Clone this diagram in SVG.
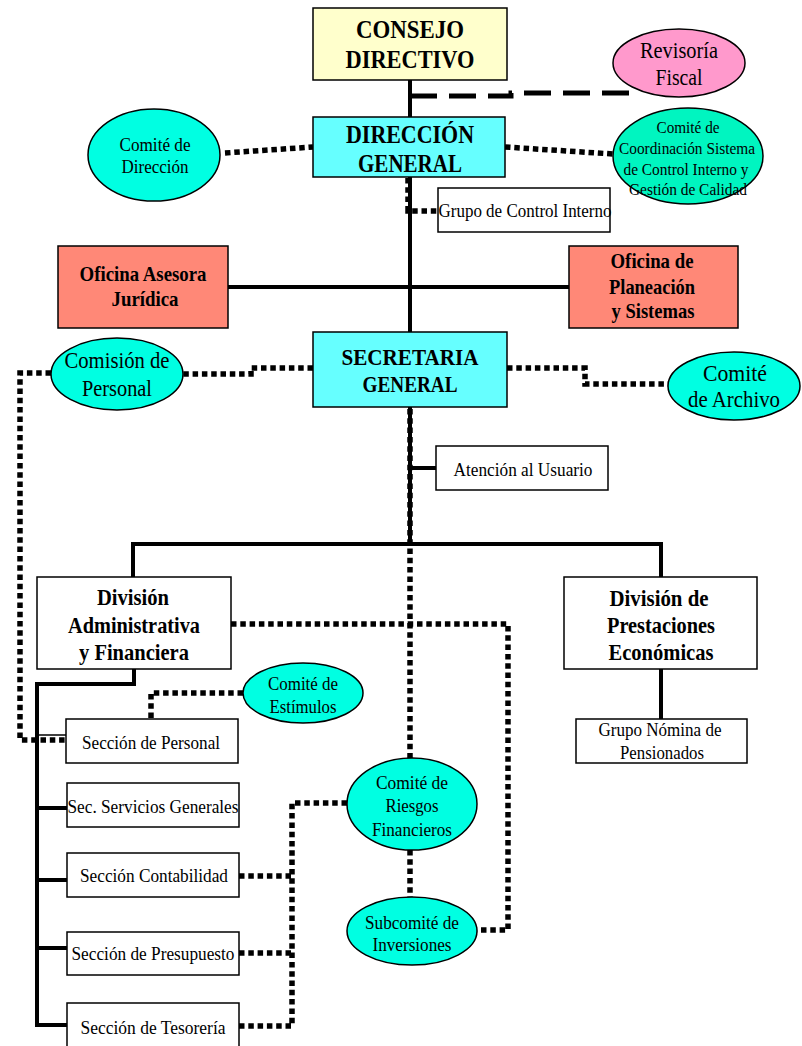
<svg xmlns="http://www.w3.org/2000/svg" width="802" height="1046" viewBox="0 0 802 1046">
<style>
text{font-family:"Liberation Serif","Times New Roman",serif;fill:#000;text-anchor:middle}
.h{font-weight:bold;font-size:25px}
.b{font-weight:bold}
.box{stroke:#000;stroke-width:1.5}
.solid{fill:none;stroke:#000;stroke-width:4}
.thin{fill:none;stroke:#000;stroke-width:1.5}
.dot{fill:none;stroke:#000;stroke-width:5.5;stroke-dasharray:5.5 3.8}
.dash{fill:none;stroke:#000;stroke-width:5;stroke-dasharray:27 12}
.cy{fill:#00FFE2}
.w{fill:#fff}
</style>
<rect width="802" height="1046" fill="#fff"/>
<g id="connectors">
<path class="solid" d="M410,80 V332"/>
<path class="solid" d="M228,287 H569"/>
<path class="dash" d="M410,96 H511 V93 H633 V86"/>
<path class="dot" d="M225,153 L313,147"/>
<path class="dot" d="M505,147 L613,154"/>
<path class="dot" d="M408,178 V211 H438"/>
<path class="dot" d="M313,368 H251 V374 H182"/>
<path class="dot" d="M51,373 H20 V740 H66"/>
<path class="dot" d="M507,368 H585 V384 H669"/>
<path class="solid" d="M410,407 V544"/>
<path class="dot" d="M410,409 V758"/>
<path class="solid" d="M410,468 H436"/>
<path class="solid" d="M133,577 V544 H661 V577"/>
<path class="solid" d="M661,669 V719"/>
<path class="dot" d="M231,624 H508 V930 H477"/>
<path class="solid" d="M134,669 V684 H37 V1025 H67"/>
<path class="solid" d="M37,808 H67 M37,880 H67 M37,948 H67"/>
<path class="thin" d="M37,735 H68"/>
<path class="dot" d="M243,693 H151 V719"/>
<path class="dot" d="M347,803 H292 V1026 H239 M239,876 H292 M239,953 H292"/>
<path class="dot" d="M410,850 V897"/>
</g>
<g id="consejo">
<rect class="box" x="313" y="8" width="194" height="72" fill="#FFFFCC"/>
<text class="h" x="410" y="38" textLength="108" lengthAdjust="spacingAndGlyphs">CONSEJO</text>
<text class="h" x="410" y="68" textLength="129" lengthAdjust="spacingAndGlyphs">DIRECTIVO</text>
</g>
<g id="revisoria">
<ellipse class="box" cx="679" cy="63" rx="66" ry="34" fill="#FF99CC"/>
<text x="679" y="58" font-size="23" textLength="78" lengthAdjust="spacingAndGlyphs">Revisoría</text>
<text x="679" y="85" font-size="23" textLength="47" lengthAdjust="spacingAndGlyphs">Fiscal</text>
</g>
<g id="direccion">
<rect class="box" x="313" y="117" width="192" height="60" fill="#66FFFF"/>
<text class="h" x="410" y="143" textLength="128" lengthAdjust="spacingAndGlyphs">DIRECCIÓN</text>
<text class="h" x="410" y="172" textLength="104" lengthAdjust="spacingAndGlyphs">GENERAL</text>
</g>
<g id="comite-direccion">
<ellipse class="box cy" cx="154" cy="155" rx="66" ry="46"/>
<text x="155" y="151" font-size="19.5" textLength="71" lengthAdjust="spacingAndGlyphs">Comité de</text>
<text x="155" y="173" font-size="19.5" textLength="67" lengthAdjust="spacingAndGlyphs">Dirección</text>
</g>
<g id="comite-coordinacion">
<ellipse class="box" cx="688" cy="156" rx="75" ry="48" fill="#00F5C0"/>
<text x="688" y="133" font-size="17.5" textLength="63" lengthAdjust="spacingAndGlyphs">Comité de</text>
<text x="687" y="154" font-size="17.5" textLength="136" lengthAdjust="spacingAndGlyphs">Coordinación Sistema</text>
<text x="686" y="175" font-size="17.5" textLength="125" lengthAdjust="spacingAndGlyphs">de Control Interno y</text>
<text x="688" y="195" font-size="17.5" textLength="118" lengthAdjust="spacingAndGlyphs">Gestión de Calidad</text>
</g>
<g id="grupo-control">
<rect class="box w" x="438" y="188" width="172" height="44"/>
<text x="525" y="217" font-size="19" textLength="173" lengthAdjust="spacingAndGlyphs">Grupo de Control Interno</text>
</g>
<g id="oficina-juridica">
<rect class="box" x="58" y="246" width="170" height="82" fill="#FF8877"/>
<text class="b" x="143" y="281" font-size="21" textLength="127" lengthAdjust="spacingAndGlyphs">Oficina Asesora</text>
<text class="b" x="145" y="306" font-size="21" textLength="67" lengthAdjust="spacingAndGlyphs">Jurídica</text>
</g>
<g id="oficina-planeacion">
<rect class="box" x="569" y="246" width="169" height="82" fill="#FF8877"/>
<text class="b" x="652" y="268" font-size="21" textLength="83" lengthAdjust="spacingAndGlyphs">Oficina de</text>
<text class="b" x="652" y="294" font-size="21" textLength="86" lengthAdjust="spacingAndGlyphs">Planeación</text>
<text class="b" x="653" y="318" font-size="21" textLength="83" lengthAdjust="spacingAndGlyphs">y Sistemas</text>
</g>
<g id="secretaria">
<rect class="box" x="313" y="332" width="194" height="75" fill="#66FFFF"/>
<text class="b" x="410" y="365" font-size="24" textLength="137" lengthAdjust="spacingAndGlyphs">SECRETARIA</text>
<text class="b" x="410" y="392" font-size="24" textLength="95" lengthAdjust="spacingAndGlyphs">GENERAL</text>
</g>
<g id="comision-personal">
<ellipse class="box cy" cx="117" cy="374" rx="66" ry="36"/>
<text x="117" y="368" font-size="23.5" textLength="105" lengthAdjust="spacingAndGlyphs">Comisión de</text>
<text x="117" y="396" font-size="23.5" textLength="70" lengthAdjust="spacingAndGlyphs">Personal</text>
</g>
<g id="comite-archivo">
<ellipse class="box cy" cx="734" cy="386" rx="66" ry="34"/>
<text x="735" y="381" font-size="23.5" textLength="64" lengthAdjust="spacingAndGlyphs">Comité</text>
<text x="734" y="407" font-size="23.5" textLength="92" lengthAdjust="spacingAndGlyphs">de Archivo</text>
</g>
<g id="atencion">
<rect class="box w" x="436" y="446" width="172" height="44"/>
<text x="523" y="476" font-size="19.5" textLength="139" lengthAdjust="spacingAndGlyphs">Atención al Usuario</text>
</g>
<g id="div-admin">
<rect class="box w" x="37" y="577" width="194" height="92"/>
<text class="b" x="133" y="605" font-size="23" textLength="72" lengthAdjust="spacingAndGlyphs">División</text>
<text class="b" x="134" y="633" font-size="23" textLength="132" lengthAdjust="spacingAndGlyphs">Administrativa</text>
<text class="b" x="134" y="660" font-size="23" textLength="110" lengthAdjust="spacingAndGlyphs">y Financiera</text>
</g>
<g id="div-prestaciones">
<rect class="box w" x="564" y="577" width="193" height="92"/>
<text class="b" x="659" y="606" font-size="23" textLength="99" lengthAdjust="spacingAndGlyphs">División de</text>
<text class="b" x="661" y="633" font-size="23" textLength="108" lengthAdjust="spacingAndGlyphs">Prestaciones</text>
<text class="b" x="661" y="660" font-size="23" textLength="105" lengthAdjust="spacingAndGlyphs">Económicas</text>
</g>
<g id="grupo-nomina">
<rect class="box w" x="576" y="719" width="171" height="44"/>
<text x="660" y="736" font-size="19" textLength="123" lengthAdjust="spacingAndGlyphs">Grupo Nómina de</text>
<text x="662" y="759" font-size="19" textLength="84" lengthAdjust="spacingAndGlyphs">Pensionados</text>
</g>
<g id="comite-estimulos">
<ellipse class="box cy" cx="303" cy="693" rx="60" ry="30"/>
<text x="303" y="690" font-size="19.5" textLength="70" lengthAdjust="spacingAndGlyphs">Comité de</text>
<text x="303" y="713" font-size="19.5" textLength="67" lengthAdjust="spacingAndGlyphs">Estímulos</text>
</g>
<g id="sec-personal">
<rect class="box w" x="66" y="719" width="172" height="44"/>
<text x="151" y="749" font-size="19.5" textLength="138" lengthAdjust="spacingAndGlyphs">Sección de Personal</text>
</g>
<g id="sec-servicios">
<rect class="box w" x="67" y="783" width="172" height="44"/>
<text x="153" y="813" font-size="19.5" textLength="171" lengthAdjust="spacingAndGlyphs">Sec. Servicios Generales</text>
</g>
<g id="sec-contabilidad">
<rect class="box w" x="67" y="853" width="172" height="44"/>
<text x="154" y="882" font-size="19.5" textLength="148" lengthAdjust="spacingAndGlyphs">Sección Contabilidad</text>
</g>
<g id="sec-presupuesto">
<rect class="box w" x="67" y="932" width="172" height="43"/>
<text x="153" y="960" font-size="19.5" textLength="163" lengthAdjust="spacingAndGlyphs">Sección de Presupuesto</text>
</g>
<g id="sec-tesoreria">
<rect class="box w" x="67" y="1003" width="172" height="50"/>
<text x="153" y="1034" font-size="19.5" textLength="145" lengthAdjust="spacingAndGlyphs">Sección de Tesorería</text>
</g>
<g id="comite-riesgos">
<ellipse class="box cy" cx="412" cy="804" rx="65" ry="46"/>
<text x="412" y="789" font-size="19.5" textLength="72" lengthAdjust="spacingAndGlyphs">Comité de</text>
<text x="412" y="812" font-size="19.5" textLength="53" lengthAdjust="spacingAndGlyphs">Riesgos</text>
<text x="412" y="836" font-size="19.5" textLength="80" lengthAdjust="spacingAndGlyphs">Financieros</text>
</g>
<g id="subcomite">
<ellipse class="box cy" cx="412" cy="931" rx="65" ry="34"/>
<text x="412" y="929" font-size="19.5" textLength="94" lengthAdjust="spacingAndGlyphs">Subcomité de</text>
<text x="412" y="951" font-size="19.5" textLength="79" lengthAdjust="spacingAndGlyphs">Inversiones</text>
</g>
</svg>
